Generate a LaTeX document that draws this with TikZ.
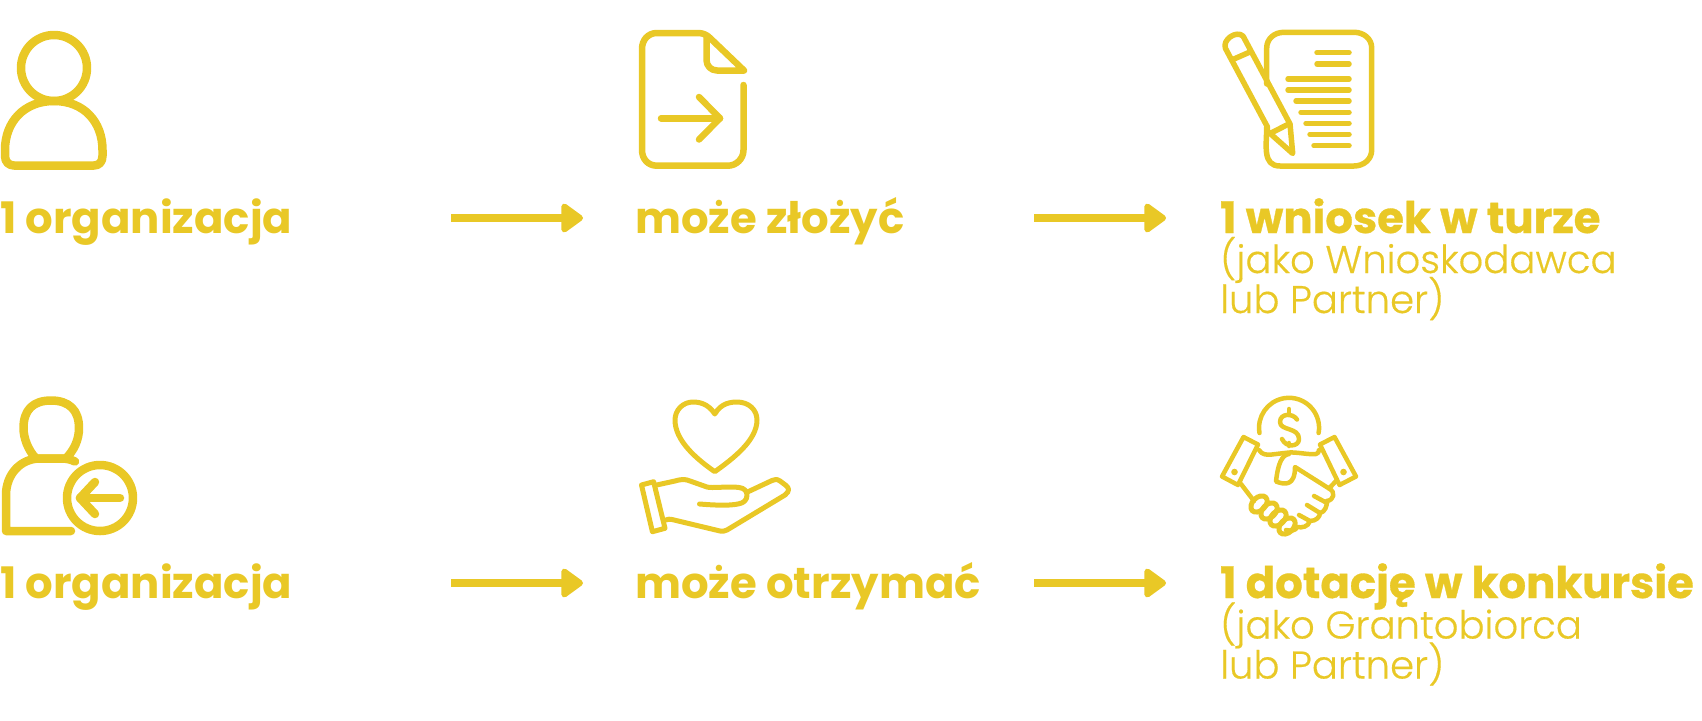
\documentclass[tikz,border=0pt]{standalone}
\usepackage{fontspec}
\setmainfont{Poppins}
\newfontfamily\lightfont[FakeBold=0.4]{Poppins Light}
\newfontfamily\heavyfont[FakeBold=0.7]{Poppins Bold}
\usetikzlibrary{arrows.meta}
\definecolor{gold}{HTML}{E9C826}
\tikzset{
  headtext/.style={anchor=base west,inner sep=0pt,text=gold,font=\fontsize{43.4}{50}\selectfont\bfseries},
  apptext/.style={anchor=base west,inner sep=0pt,text=gold,font=\fontsize{43.4}{50}\selectfont\heavyfont},
  subtext/.style={anchor=base west,inner sep=0pt,text=gold,font=\fontsize{38.6}{46}\selectfont\lightfont},
  flow/.style={draw=gold,line width=8.5pt,-{Triangle[length=24pt,width=33pt,round]}},
  icon/.style={draw=gold,line width=#1,line cap=round,line join=round},
  icon/.default=5pt
}
\begin{document}
\begin{tikzpicture}[x=1pt,y=-1pt]
  \useasboundingbox (0,0) rectangle (1702,720);

  % top row
  \node[headtext] (org1) at (0,233) {1 organizacja};
  \node[headtext] (can1) at (635,233) {może złożyć};
  \node[apptext] (app1) at (1220,233) {1 wniosek w turze};
  \node[subtext] (role1) at (1220,273) {(jako Wnioskodawca};
  \node[subtext] (part1) at (1220,313) {lub Partner)};

  % bottom row
  \node[headtext] (org2) at (0,598) {1 organizacja};
  \node[headtext] (can2) at (635,598) {może otrzymać};
  \node[apptext] (app2) at (1220,598) {1 dotację w konkursie};
  \node[subtext] (role2) at (1220,638.5) {(jako Grantobiorca};
  \node[subtext] (part2) at (1220,678.5) {lub Partner)};

  % arrows
  \coordinate (a1) at (451,218);
  \coordinate (b1) at (583,218);
  \coordinate (a2) at (1034,218);
  \coordinate (b2) at (1166,218);
  \coordinate (a3) at (451,583);
  \coordinate (b3) at (583,583);
  \coordinate (a4) at (1034,583);
  \coordinate (b4) at (1166,583);
  \draw[flow] (a1) -- (b1);
  \draw[flow] (a2) -- (b2);
  \draw[flow] (a3) -- (b3);
  \draw[flow] (a4) -- (b4);

  % person
  \draw[icon=8.5pt] (54,68) circle (33);
  \draw[icon=8.5pt] (54,101) .. controls (24,101) and (5,122) .. (5,150) -- (5,156)
    .. controls (5,162) and (9,165.5) .. (14,165.5) -- (94,165.5)
    .. controls (99,165.5) and (102.5,162) .. (102.5,156) -- (102.5,150)
    .. controls (102.5,122) and (84,101) .. (54,101) -- cycle;

  % file
  \draw[icon=6.5pt] (743.5,85) -- (743.5,150) .. controls (743.5,159) and (736,165.7) .. (728,165.7)
    -- (657,165.7) .. controls (648,165.7) and (642,159) .. (642,150) -- (642,49)
    .. controls (642,40) and (648,33) .. (657,33) -- (698,33)
    .. controls (703,33) and (707,35) .. (710,38) -- (744,70.5) -- (717,70.5)
    .. controls (711,70.5) and (706.5,66) .. (706.5,60) -- (706.5,38);

  \draw[icon=6.5pt] (661,118.3) -- (720,118.3);
  \draw[icon=6.5pt] (699,97) -- (720,118.3) -- (699,139.5);

  % pencil and page
  \draw[icon=5.5pt] (1266.7,84) -- (1266.7,48) .. controls (1266.7,39) and (1274,32.3) .. (1284,32.3)
    -- (1354,32.3) .. controls (1364,32.3) and (1371.7,39) .. (1371.7,48) -- (1371.7,150)
    .. controls (1371.7,159) and (1364,166) .. (1354,166) -- (1280,166)
    .. controls (1262,166) and (1266.7,145) .. (1266.7,127);
  \draw[icon=5.5pt] (1267.3,126.7) -- (1225.5,48.5) .. controls (1222,40) and (1236,30) .. (1243,36)
    -- (1290,124) -- (1292.7,153.5) -- (1267.3,131) -- cycle;
  \draw[icon=5.5pt] (1233.3,59.3) -- (1248.3,52.7);
  \draw[icon=5.5pt] (1271.7,132.7) -- (1287.3,124.7);
  \foreach \lx/\ly in {1317/52.7,1317/64,1288/79,1288/90,1296/101,1301/112.3,1306/123.3,1310/134.3,1314/145.7}
    \draw[icon=5.5pt] (\lx,\ly) -- (1349,\ly);

  % person leaving
  \draw[icon=8.5pt] (36,458.5) .. controls (28,450) and (23.5,438) .. (23.5,428)
    .. controls (23.5,410) and (33,400.5) .. (51,400.5) .. controls (69,400.5) and (79,410) .. (79,428)
    .. controls (79,440) and (74,450) .. (66,458.5) -- cycle;
  \draw[icon=8.5pt] (75,461.5) .. controls (71,459.5) and (66,458.5) .. (62,458.5) -- (40,458.5)
    .. controls (20,458.5) and (6,475) .. (6,495) -- (6,531) -- (71,531);
  \draw[icon=8.5pt] (100,498) circle (33);
  \draw[icon=8.5pt] (120,498) -- (80,498);
  \draw[icon=8.5pt] (95,482) -- (80,498) -- (95,514);

  % heart on hand
  \draw[icon] (714.8,414) .. controls (708,403) and (698,402) .. (693,402)
    .. controls (683,402) and (675,410) .. (675,420) .. controls (675,440) and (695,458) .. (714.8,471.7)
    .. controls (734,458) and (757,440) .. (757,420) .. controls (757,410) and (749,402) .. (737,402)
    .. controls (731,402) and (721,403) .. (714.8,414) -- cycle;
  \draw[icon] (641.5,485) -- (653.6,481.7) -- (665,528.3) -- (652.4,531.7) -- cycle;
  \draw[icon] (656.6,485) -- (675,481) .. controls (682,479) and (685,479) .. (690,481) -- (707,487)
    .. controls (711,488.5) and (730,486) .. (739,487.5) .. controls (744,488) and (747,491) .. (747,495)
    .. controls (747,500) and (744,503) .. (738,504) .. controls (728,506) and (712,505) .. (699.5,504);
  \draw[icon] (665.8,520) .. controls (668,519) and (670,519) .. (672,519.5) -- (720,531)
    .. controls (723,531.5) and (725,531) .. (727,530) -- (785,495)
    .. controls (790,491) and (789,488) .. (786,485.5) -- (780,481) .. controls (777,479) and (775,479) .. (772,480.5) -- (747.5,492);

  % handshake and coin
  \draw[icon=4.5pt] (1259.5,433) arc[start angle=170,end angle=370,radius=30];
  \draw[icon=4.5pt] (1297,419.5) .. controls (1293,413) and (1280,413) .. (1280,422)
    .. controls (1280,431) and (1299,427) .. (1299,439) .. controls (1299,447) and (1286,448) .. (1282,439);
  \draw[icon=4.5pt] (1289,409) -- (1289,414);
  \draw[icon=4.5pt] (1289,443) -- (1289,446);
  \draw[icon=4.5pt] (1243.5,437) -- (1258,444.5) -- (1238,485) -- (1222,476.5) -- cycle;
  \draw[icon=4.5pt] (1334.5,437) -- (1320,444.5) -- (1339.5,485) -- (1356,476.5) -- cycle;
  \fill[gold] (1234.5,472) circle (3.3);
  \fill[gold] (1343.5,472) circle (3.3);
  \draw[icon=4.5pt] (1259,450) .. controls (1262,455) and (1267,455) .. (1272,454.5)
    .. controls (1280,453.5) and (1285,453) .. (1289,452.5) .. controls (1297,452) and (1310,455) .. (1316,454)
    .. controls (1318,453.5) and (1319,452) .. (1319,450);
  \draw[icon=4.5pt] (1289,454) .. controls (1282,455) and (1278,463) .. (1276,481.5)
    .. controls (1285,485) and (1295,486) .. (1295,467) -- (1329,488.5) -- (1336,481);
  \draw[icon=4.5pt] (1329,488.5) .. controls (1336,492) and (1334,500) .. (1327,501);
  \draw[icon=4.5pt] (1241,484) -- (1254,501);
  \draw[icon=4.5pt] (1314,496) -- (1327,503);
  \draw[icon=4.5pt] (1307,505) -- (1320,513) .. controls (1325,512) and (1327,506) .. (1327,501);
  \draw[icon=4.5pt] (1299,515) -- (1310,521) .. controls (1316,521) and (1320,517) .. (1320,513);
  \draw[icon=4.5pt] (1310,521) .. controls (1308,527) and (1302,528) .. (1297,527) .. controls (1296,531) and (1290,531) .. (1286,530);
  \foreach \fx/\fy in {1259/504,1269/511,1278/518,1287/526}
    \draw[icon=5pt,rotate around={45:(\fx,\fy)}] (\fx,\fy) ellipse (9.5 and 6.5);
\end{tikzpicture}
\end{document}
